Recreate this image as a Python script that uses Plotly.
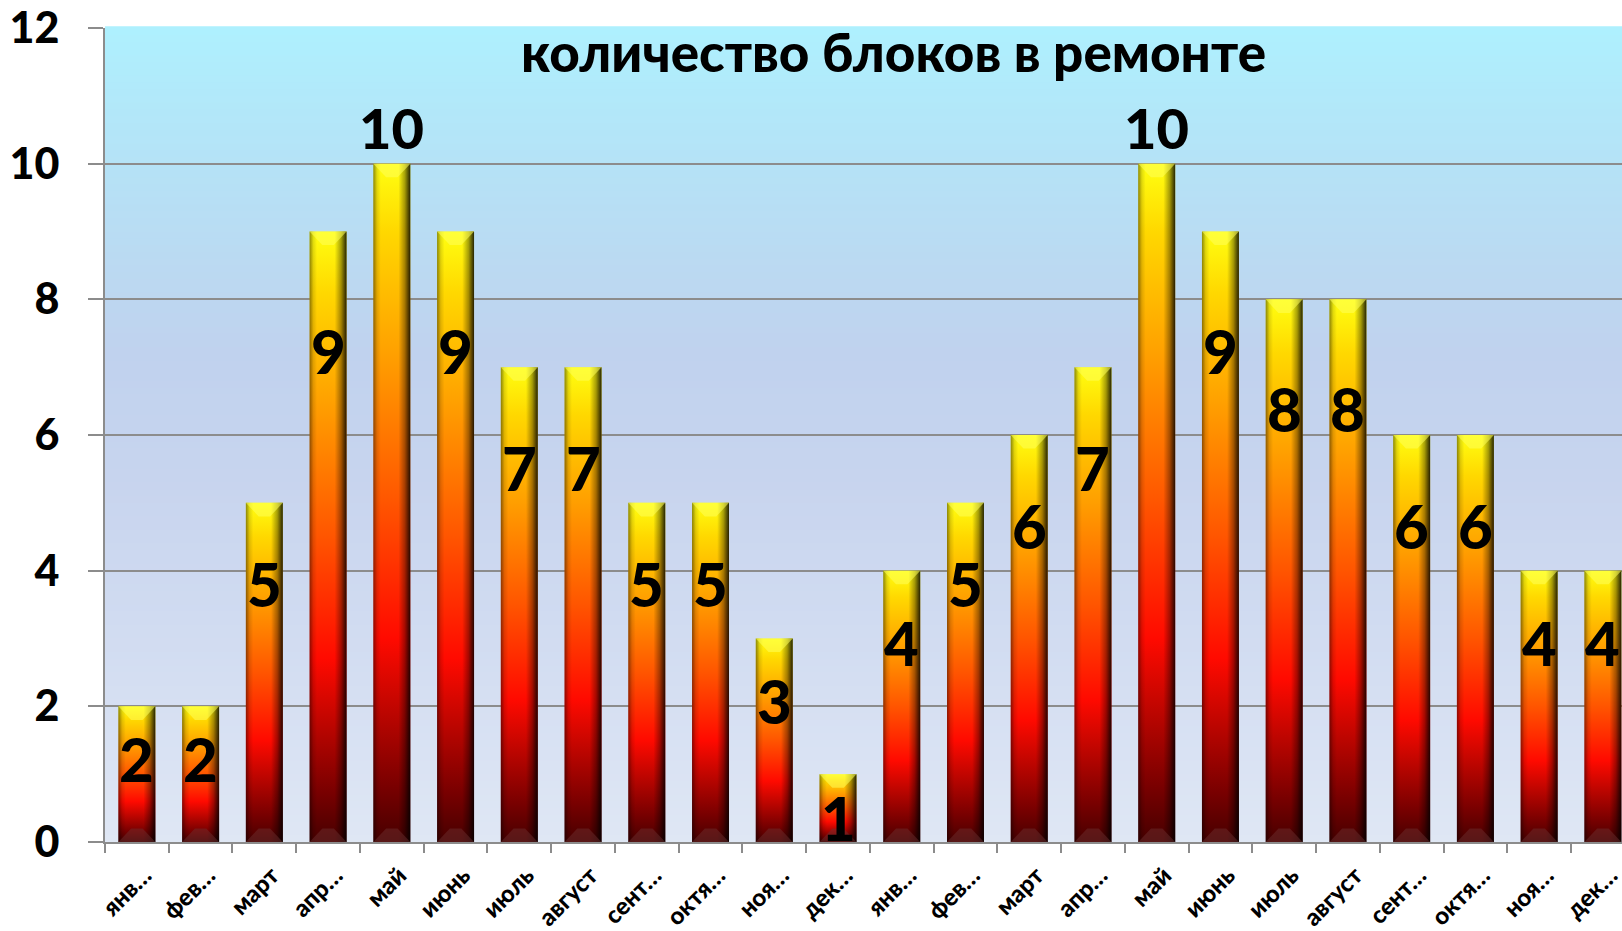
import plotly.graph_objects as go

# ---- data ----
month_labels = ["янв…", "фев…", "март", "апр…", "май", "июнь", "июль", "август",
                "сент…", "октя…", "ноя…", "дек…",
                "янв…", "фев…", "март", "апр…", "май", "июнь", "июль", "август",
                "сент…", "октя…", "ноя…", "дек…"]
blocks_in_repair = [2, 2, 5, 9, 10, 9, 7, 7, 5, 5, 3, 1,
                    4, 5, 6, 7, 10, 9, 8, 8, 6, 6, 4, 4]
y_ticks = [0, 2, 4, 6, 8, 10, 12]
title_text = "количество блоков в ремонте"

# ---- style ----
FONT = "Lato"
GRID = "#8c8c8c"
W, H = 1622, 931
ML, MT, MB = 105, 28, 89
x_range = [-0.5, 23.3]
y_range = [0, 12]
hw = 0.29          # half bar width (category units)
bevel_h = 0.2      # bevel height (value units)
bevel_d = 0.2      # bevel inset (category units)
label_shift = 0.12 # tick label offset to the right (category units)

bar_scale = [[0.0, "#460000"], [0.08, "#780000"], [0.3, "#ff0a00"],
             [0.5, "#ff5500"], [0.72, "#ffa000"], [0.9, "#ffd800"], [1.0, "#ffff10"]]
shade_scale = [[0.0, "rgba(0,0,0,0.45)"], [0.1, "rgba(0,0,0,0.12)"], [0.2, "rgba(0,0,0,0)"],
               [0.68, "rgba(0,0,0,0)"], [0.85, "rgba(0,0,0,0.35)"], [1.0, "rgba(0,0,0,0.85)"]]

fig = go.Figure()

for i, v in enumerate(blocks_in_repair):
    xl, xr = i - hw, i + hw
    # main body, vertical gradient
    fig.add_trace(go.Scatter(
        x=[xl, xr, xr, xl, xl], y=[0, 0, v, v, 0], mode="lines", fill="toself",
        line=dict(width=0), fillgradient=dict(type="vertical", colorscale=bar_scale,
                                               start=0, stop=v),
        hoverinfo="skip", showlegend=False))
    # side shading, horizontal gradient
    fig.add_trace(go.Scatter(
        x=[xl, xr, xr, xl, xl], y=[0, 0, v, v, 0], mode="lines", fill="toself",
        line=dict(width=0), fillgradient=dict(type="horizontal", colorscale=shade_scale,
                                               start=xl, stop=xr),
        hoverinfo="skip", showlegend=False))
    # top bevel
    fig.add_trace(go.Scatter(
        x=[xl, xr, xr - bevel_d, xl + bevel_d, xl],
        y=[v, v, v - bevel_h, v - bevel_h, v], mode="lines", fill="toself",
        line=dict(width=0), fillcolor="rgba(255,255,90,0.55)",
        hoverinfo="skip", showlegend=False))
    # bottom bevel
    fig.add_trace(go.Scatter(
        x=[xl, xr, xr - bevel_d, xl + bevel_d, xl],
        y=[0, 0, bevel_h, bevel_h, 0], mode="lines", fill="toself",
        line=dict(width=0), fillcolor="rgba(110,50,50,0.45)",
        hoverinfo="skip", showlegend=False))

# data labels
for i, v in enumerate(blocks_in_repair):
    if v >= 10:
        fig.add_annotation(x=i, y=v, text=str(v), showarrow=False, xanchor="center",
                           yanchor="bottom", yshift=1,
                           font=dict(family=FONT, size=56, color="black", weight=900))
    else:
        fig.add_annotation(x=i, y=v - (0.5 + 0.14 * v), text=str(v), showarrow=False,
                           xanchor="center", yanchor="middle",
                           font=dict(family=FONT, size=60, color="black", weight=900))

# title
fig.add_annotation(xref="paper", yref="paper", x=0.52, y=0.971, text=title_text,
                   showarrow=False, xanchor="center", yanchor="middle",
                   font=dict(family=FONT, size=53, color="black", weight=900))

# plot-area background gradient (bands below gridlines)
bg_stops = [(0.0, (223, 231, 244)), (0.2, (212, 222, 242)), (0.45, (199, 212, 238)),
            (0.6, (192, 210, 238)), (0.83, (181, 226, 246)), (1.0, (174, 240, 254))]
def bg_color(t):
    for (t0, c0), (t1, c1) in zip(bg_stops[:-1], bg_stops[1:]):
        if t0 <= t <= t1:
            f = (t - t0) / (t1 - t0)
            return "rgb(%d,%d,%d)" % tuple(round(a + (b - a) * f) for a, b in zip(c0, c1))
    return "rgb(%d,%d,%d)" % bg_stops[-1][1]
n_bands = 120
for k in range(n_bands):
    y0 = k / n_bands
    y1 = (k + 1) / n_bands
    fig.add_shape(type="rect", xref="x domain", yref="y domain", x0=0, x1=1,
                  y0=y0, y1=y1 + 0.002, layer="below", line=dict(width=0),
                  fillcolor=bg_color((y0 + y1) / 2))

fig.update_layout(
    width=W, height=H, margin=dict(l=ML, r=0, t=MT, b=MB, autoexpand=False),
    paper_bgcolor="white", plot_bgcolor="white", showlegend=False,
    font=dict(family=FONT, color="black"),
    xaxis=dict(range=x_range, tickmode="array",
               tickvals=[i + label_shift for i in range(len(month_labels))],
               ticktext=month_labels, tickangle=-45, ticks="", automargin=False,
               ticklabeloverflow="allow",
               tickfont=dict(family=FONT, size=24, color="black", weight=900),
               ticklabelstandoff=8,
               showgrid=False, zeroline=False, showline=True, linecolor=GRID, linewidth=2,
               minor=dict(tickmode="linear", tick0=-0.5, dtick=1, ticks="outside",
                          ticklen=9, tickwidth=2, tickcolor=GRID, showgrid=False),
               fixedrange=True),
    yaxis=dict(range=y_range, tickmode="array", tickvals=y_ticks, automargin=False,
               ticklabeloverflow="allow",
               ticks="outside", ticklen=15, tickwidth=2, tickcolor=GRID,
               tickfont=dict(family=FONT, size=43, color="black", weight=900),
               ticklabelstandoff=20,
               showgrid=True, gridcolor=GRID, gridwidth=2, zeroline=False,
               showline=True, linecolor=GRID, linewidth=2, fixedrange=True),
)

fig.write_html("out.html", config={"displayModeBar": False},
               post_script="document.body.style.margin='0px';"
                           "document.body.style.overflow='hidden';")
